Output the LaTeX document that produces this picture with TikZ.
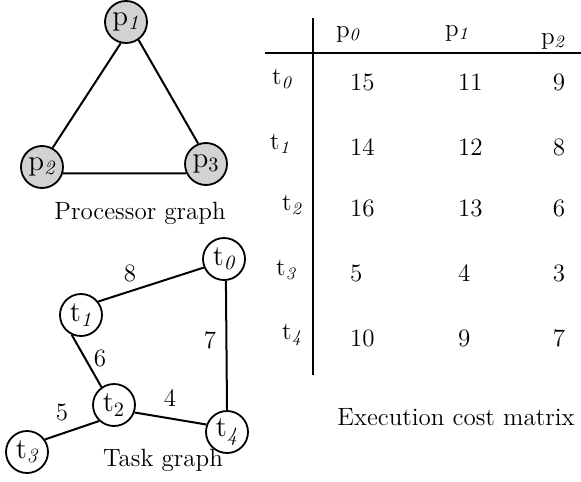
\documentclass[tikz,border=0pt]{standalone}
\usepackage{tikz}

\newcommand{\isub}[1]{\textsubscript{\itshape #1}}

\begin{document}
\begin{tikzpicture}[x=0.5pt, y=-0.5pt,
  every node/.style={font=\fontsize{12.5}{14}\selectfont},
  proc/.style={circle, draw, line width=0.9pt, fill=gray!35,
    minimum size=21pt, inner sep=0pt, font=\fontsize{14.5}{16}\selectfont},
  task/.style={circle, draw, line width=0.9pt, fill=white,
    minimum size=21pt, inner sep=0pt, font=\fontsize{14.5}{16}\selectfont},
  link/.style={line width=1pt}]
\useasboundingbox (0,0) rectangle (581,481);

% processor graph
\node[proc] (p1) at (126,22) {p\isub{1}};
\node[proc] (p2) at (42,167) {p\isub{2}};
\node[proc] (p3) at (206,164) {p\textsubscript{3}};
\draw[link] (p1.-104) -- (p2.61);
\draw[link] (p1.-55) -- (p3.111);
\draw[link] (p2.-17) -- (p3.205);
\node (plab) at (140,213) {Processor graph};

% task graph
\node[task] (t0) at (224,259) {t\isub{0}};
\node[task] (t1) at (81,315) {t\isub{1}};
\node[task] (t2) at (114,405) {t\textsubscript{2}};
\node[task] (t3) at (27,452) {t\isub{3}};
\node[task] (t4) at (227,432) {t\isub{4}};
\draw[link] (t1.38) -- (t0.203);
\draw[link] (t0.-85) -- (t4.90);
\draw[link] (t1.-115) -- (t2.125);
\draw[link] (t2.-20) -- (t4.160);
\draw[link] (t2.227) -- (t3.35);
\node (w8) at (130,273) {8};
\node (w6) at (100,358) {6};
\node (w7) at (210,340) {7};
\node (w4) at (170,398) {4};
\node (w5) at (62,412) {5};
\node (tlab) at (163,460) {Task graph};

% execution cost matrix
\coordinate (vtop) at (313,18);
\coordinate (vbot) at (313,375);
\coordinate (hleft) at (265,53);
\coordinate (hright) at (581,53);
\draw[line width=1.1pt] (vtop) -- (vbot);
\draw[line width=0.9pt] (hleft) -- (hright);
\node (h0) at (348,34) {p\isub{0}};
\node (h1) at (457,33) {p\isub{1}};
\node (h2) at (553,41) {p\isub{2}};
\foreach \nm/\yy/\lx/\a/\b/\c in {0/82/299/15/11/9, 1/147/297/14/12/8,
    2/208/309/16/13/6, 3/273/303/5/4/3, 4/338/309/10/9/7} {
  \node[anchor=east] (r\nm) at (\lx,\yy-3) {t\isub{\nm}};
  \node[anchor=west] (a\nm) at (343,\yy) {\a};
  \node[anchor=west] (b\nm) at (451,\yy) {\b};
  \node (c\nm) at (559,\yy) {\c};
}
\node (mlab) at (456,417) {Execution cost matrix};
\end{tikzpicture}
\end{document}
